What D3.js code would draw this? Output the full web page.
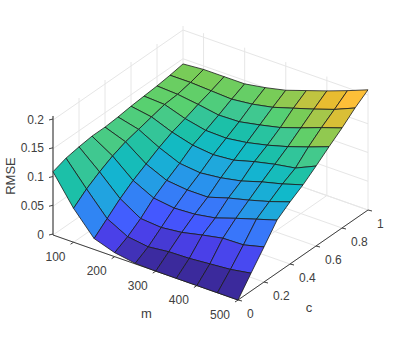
<!DOCTYPE html>
<html>
<head>
<meta charset="utf-8">
<script src="https://cdnjs.cloudflare.com/ajax/libs/d3/7.8.5/d3.min.js"></script>
<style>
  html, body { margin: 0; padding: 0; background: #fff; }
  svg { display: block; }
  text { font-family: "Liberation Sans", sans-serif; font-size: 12px; fill: #404040; }
  .label { font-size: 13px; }
</style>
</head>
<body>
<svg width="407" height="338"></svg>
<script>
const mValues = [50, 100, 150, 200, 250, 300, 350, 400, 450, 500];
const cValues = [0, 0.1, 0.2, 0.3, 0.4, 0.5, 0.6, 0.7, 0.8, 0.9, 1];

// one row per c, one column per m
const rmse = [
  [.110, .059, .019, .007, .001, 0, 0, 0, 0, 0],
  [.118, .077, .038, .019, .014, .018, .019, .022, .025, .031],
  [.122, .091, .057, .035, .032, .036, .044, .051, .052, .061],
  [.125, .103, .073, .055, .050, .052, .058, .070, .081, .092],
  [.125, .112, .086, .070, .066, .066, .077, .086, .096, .108],
  [.127, .118, .099, .084, .080, .084, .091, .102, .111, .122],
  [.130, .124, .110, .100, .096, .099, .109, .117, .123, .139],
  [.132, .130, .118, .110, .109, .114, .122, .132, .144, .157],
  [.134, .132, .127, .121, .122, .129, .137, .149, .162, .174],
  [.137, .137, .135, .133, .137, .144, .155, .166, .178, .193],
  [.141, .144, .144, .144, .150, .158, .170, .182, .195, .209]
];

const mTicks = [100, 200, 300, 400, 500];
const cTicks = [0, 0.2, 0.4, 0.6, 0.8, 1];
const zTicks = [0, 0.05, 0.1, 0.15, 0.2];
const zTop = 0.207;

const colorValues = [0, .019, .035, .05, .065, .08, .095, .11, .122, .130, .137, .148, .155, .166, .178];
const colorStops = ["#3b2a9c", "#4a40e8", "#4458ff", "#3a74fb", "#2a90ee", "#1fa8dc", "#10b8cc", "#1cc0a8",
                    "#40c890", "#58d070", "#78cc58", "#a0c84c", "#c0c440", "#e8bc30", "#fdbf38"];

const origin = [53, 235];

const svg = d3.select("svg");

// each data axis moves the point along its own screen direction
const mToX = d3.scaleLinear().domain([50, 500]).range([0, 185]);
const mToY = d3.scaleLinear().domain([50, 500]).range([0, 65]);
const cToX = d3.scaleLinear().domain([0, 1]).range([0, 130]);
const cToY = d3.scaleLinear().domain([0, 1]).range([0, -90]);
const zToY = d3.scaleLinear().domain([0, 0.2]).range([0, -115]);

const color = d3.scaleLinear()
                .domain(colorValues)
                .range(colorStops)
                .clamp(true);

const px = (m, c) => origin[0] + mToX(m) + cToX(c);
const py = (m, c, z) => origin[1] + mToY(m) + cToY(c) + zToY(z);

const line3d = (g, a, b, stroke, width) => {
  g.append("line")
   .attr("x1", px(a[0], a[1])).attr("y1", py(a[0], a[1], a[2]))
   .attr("x2", px(b[0], b[1])).attr("y2", py(b[0], b[1], b[2]))
   .attr("stroke", stroke)
   .attr("stroke-width", width);
};

// back walls and floor
const grid = svg.append("g");
const gridColor = "#e6e6e6";
mTicks.forEach(m => {
  line3d(grid, [m, 0, 0], [m, 1, 0], gridColor, 1);
  line3d(grid, [m, 1, 0], [m, 1, zTop], gridColor, 1);
});
cTicks.forEach(c => {
  line3d(grid, [50, c, 0], [500, c, 0], gridColor, 1);
  line3d(grid, [50, c, 0], [50, c, zTop], gridColor, 1);
});
zTicks.forEach(z => {
  line3d(grid, [50, 0, z], [50, 1, z], gridColor, 1);
  line3d(grid, [50, 1, z], [500, 1, z], gridColor, 1);
});

// axes
const axes = svg.append("g");
const axisColor = "#404040";
line3d(axes, [50, 0, 0], [50, 0, zTop], "#262626", 1);
line3d(axes, [50, 0, 0], [500, 0, 0], axisColor, 1);
line3d(axes, [500, 0, 0], [500, 1, 0], axisColor, 1);

zTicks.forEach(z => {
  const y = py(50, 0, z);
  axes.append("line").attr("x1", 49).attr("x2", 53).attr("y1", y).attr("y2", y - 1)
      .attr("stroke", axisColor);
  axes.append("text").attr("x", 44).attr("y", y + 0.5)
      .attr("text-anchor", "end").attr("dominant-baseline", "middle")
      .text(d3.format("~g")(z));
});
mTicks.forEach(m => {
  const x = px(m, 0), y = py(m, 0, 0);
  axes.append("line").attr("x1", x).attr("y1", y).attr("x2", x - 3).attr("y2", y + 2)
      .attr("stroke", axisColor);
  axes.append("text").attr("x", x - 8).attr("y", y + 15.5)
      .attr("text-anchor", "end").attr("dominant-baseline", "middle")
      .text(m);
});
cTicks.forEach(c => {
  const x = px(500, c), y = py(500, c, 0);
  axes.append("line").attr("x1", x).attr("y1", y).attr("x2", x + 4).attr("y2", y + 1)
      .attr("stroke", axisColor);
  axes.append("text").attr("x", x + 9).attr("y", y + 14.5)
      .attr("text-anchor", "start").attr("dominant-baseline", "middle")
      .text(d3.format("~g")(c));
});

axes.append("text").attr("class", "label").attr("text-anchor", "middle")
    .attr("transform", "translate(15, 176) rotate(-90)")
    .text("RMSE");
axes.append("text").attr("class", "label").attr("x", 146.5).attr("y", 318).attr("text-anchor", "middle").text("m");
axes.append("text").attr("class", "label").attr("x", 309).attr("y", 312).attr("text-anchor", "middle").text("c");

// surface, painted from the back corner to the front one
const cells = [];
for (let j = cValues.length - 2; j >= 0; j--) {
  for (let i = 0; i < mValues.length - 1; i++) {
    cells.push({i, j});
  }
}

const corner = (i, j) => [px(mValues[i], cValues[j]), py(mValues[i], cValues[j], rmse[j][i])];

// flat shading: a cell takes the colour of its first corner
svg.append("g")
   .selectAll("path")
   .data(cells)
   .enter()
   .append("path")
   .attr("d", d => d3.line()([corner(d.i, d.j), corner(d.i + 1, d.j),
                              corner(d.i + 1, d.j + 1), corner(d.i, d.j + 1)]) + "Z")
   .attr("fill", d => color(rmse[d.j][d.i]))
   .attr("stroke", "#1a1a1a")
   .attr("stroke-width", 0.8)
   .attr("stroke-linejoin", "round");
</script>
</body>
</html>
